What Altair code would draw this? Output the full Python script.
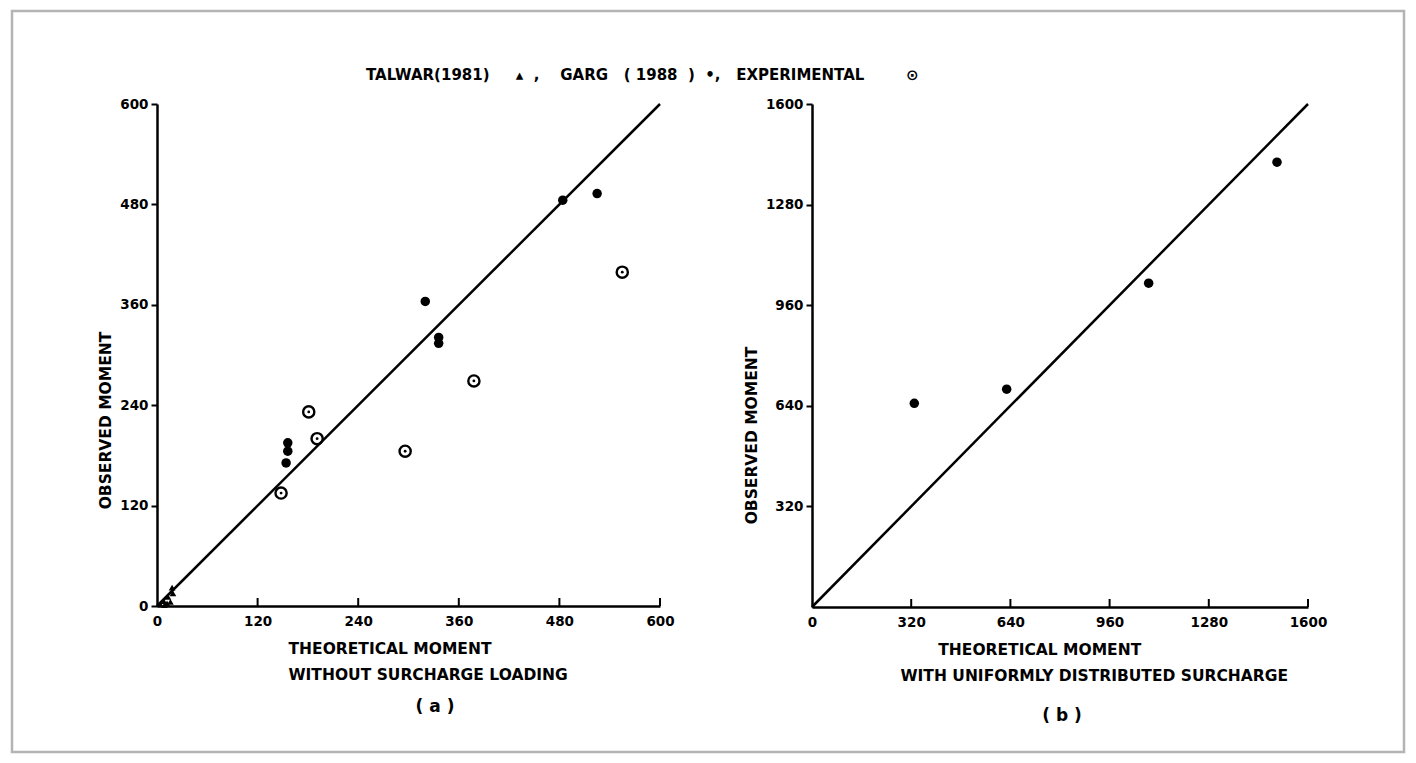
import altair as alt
import pandas as pd

# ---------------- data ----------------
# Panel (a): without surcharge loading
talwar_x = [4, 9, 8, 13, 16, 19, 18, 12]
talwar_y = [2, 1, 6, 11, 5, 15, 22, 3]

garg_a_x = [156, 156, 154, 320, 336, 336, 484, 525]
garg_a_y = [195, 185, 171, 364, 321, 314, 485, 493]

exp_a_x = [148, 181, 191, 296, 378, 555]
exp_a_y = [135, 232, 200, 185, 269, 399]

line_a = [0, 600]
ticks_a = [0, 120, 240, 360, 480, 600]
yticks_a = [0, 120, 240, 360, 480, 600]

# Panel (b): with uniformly distributed surcharge
garg_b_x = [330, 628, 1086, 1500]
garg_b_y = [648, 693, 1030, 1415]

line_b = [0, 1600]
ticks_b = [0, 320, 640, 960, 1280, 1600]
yticks_b = [320, 640, 960, 1280, 1600]

FONT = "DejaVu Sans"
NB = "\u00a0"
ZW = "\u200b"

legend_text = ("TALWAR(1981)" + NB * 5 + "\u25b4" + NB * 2 + "," + NB * 4
               + "GARG" + NB * 3 + "(" + NB + "1988" + NB * 2 + ")"
               + NB * 2 + "\u2022," + NB * 3 + "EXPERIMENTAL" + NB * 8 + "\u2299")


def axis_x(values, title, title_x, title_y):
    return alt.Axis(values=values, ticks=False, grid=False, domainColor="black", domainWidth=2.5,
                    format="d",
                    labelFont=FONT, labelFontWeight="bold", labelFontSize=13.5, labelColor="black",
                    labelPadding=8, labelFlush=False, labelOverlap=False,
                    title=title, titleFont=FONT, titleFontWeight="bold", titleFontSize=15.5,
                    titleColor="black", titleAlign="left", titleBaseline="top",
                    titleX=title_x, titleY=title_y, titleLineHeight=26)


def axis_y(values, title_y):
    return alt.Axis(values=values, tickSize=6, tickWidth=2, tickColor="black", grid=False,
                    domainColor="black", domainWidth=2.5, format="d",
                    labelFont=FONT, labelFontWeight="bold", labelFontSize=13.5, labelColor="black",
                    labelPadding=3, labelFlush=False, labelOverlap=False,
                    title="OBSERVED MOMENT", titleFont=FONT, titleFontWeight="bold",
                    titleFontSize=15.5, titleColor="black", titlePadding=6,
                    titleAlign="center", titleY=title_y)


def text_mark(txt, x, y, size, align):
    return alt.Chart(pd.DataFrame({"t": [txt]})).mark_text(
        font=FONT, fontSize=size, fontWeight="bold", color="black", align=align,
        baseline="middle").encode(text="t:N", x=alt.value(x), y=alt.value(y))


def panel(dmax, w, h, ticks, yticks, line, garg_x, garg_y, xtitle, title_x, label,
          label_x, label_y, ytitle_y, talwar=None, exp=None, frame=False, legend=False):
    xs = alt.Scale(domain=[0, dmax], nice=False, zero=True)
    ys = alt.Scale(domain=[0, dmax], nice=False, zero=True)
    xenc = alt.X("x:Q", scale=xs, axis=axis_x(ticks, xtitle, title_x, 35))
    yenc = alt.Y("y:Q", scale=ys, axis=axis_y(yticks, ytitle_y))

    df_line = pd.DataFrame({"x": line, "y": line})
    layers = [
        alt.Chart(df_line).mark_line(color="black", strokeWidth=2.5).encode(x=xenc, y=yenc),
        alt.Chart(pd.DataFrame({"x": ticks[1:]})).mark_rule(color="black", strokeWidth=2).encode(
            x=xenc, y=alt.value(h - 8), y2=alt.value(h)),
        text_mark(label, label_x, label_y, 17, "center"),
    ]
    if frame:
        # light grey border around the whole figure (decoration)
        layers.append(alt.Chart(pd.DataFrame({"f": [1]})).mark_rect(
            fillOpacity=0, stroke="#b4b4b4", strokeWidth=2.5).encode(
            x=alt.value(-145), x2=alt.value(1247), y=alt.value(-93), y2=alt.value(648)))
    if legend:
        layers.append(text_mark(legend_text, 209, -29, 15, "left"))
    if talwar is not None:
        df_t = pd.DataFrame({"x": talwar[0], "y": talwar[1]})
        layers.append(alt.Chart(df_t).mark_point(shape="triangle-up", filled=True, color="black",
                                                 size=45, opacity=1).encode(x=xenc, y=yenc))
    df_g = pd.DataFrame({"x": garg_x, "y": garg_y})
    layers.append(alt.Chart(df_g).mark_point(shape="circle", filled=True, color="black",
                                             size=90, opacity=1).encode(x=xenc, y=yenc))
    if exp is not None:
        df_e = pd.DataFrame({"x": exp[0], "y": exp[1]})
        layers.append(alt.Chart(df_e).mark_point(shape="circle", filled=False, color="black",
                                                 size=125, strokeWidth=2.4, opacity=1).encode(x=xenc, y=yenc))
        layers.append(alt.Chart(df_e).mark_point(shape="circle", filled=True, color="black",
                                                 size=8, opacity=1).encode(x=xenc, y=yenc))
    return alt.layer(*layers).properties(width=w, height=h)


panel_a = panel(600, 503, 502, ticks_a, yticks_a, line_a, garg_a_x, garg_a_y,
                ["THEORETICAL MOMENT", "WITHOUT SURCHARGE LOADING"], 131,
                "( a )", 278, 603, 316,
                talwar=(talwar_x, talwar_y), exp=(exp_a_x, exp_a_y), frame=True, legend=True)

panel_b = panel(1600, 496, 503, ticks_b, yticks_b, line_b, garg_b_x, garg_b_y,
                [ZW + NB * 7 + "THEORETICAL MOMENT", "WITH UNIFORMLY DISTRIBUTED SURCHARGE"], 88,
                "( b )", 250, 612, 331)

chart = alt.hconcat(panel_a, panel_b, spacing=152, bounds="flush").properties(
    padding={"left": 10, "top": 9, "right": 5, "bottom": 5},
    background="white",
).configure_view(stroke=None)

chart.save("out.html", embed_options={"renderer": "svg", "actions": False})
